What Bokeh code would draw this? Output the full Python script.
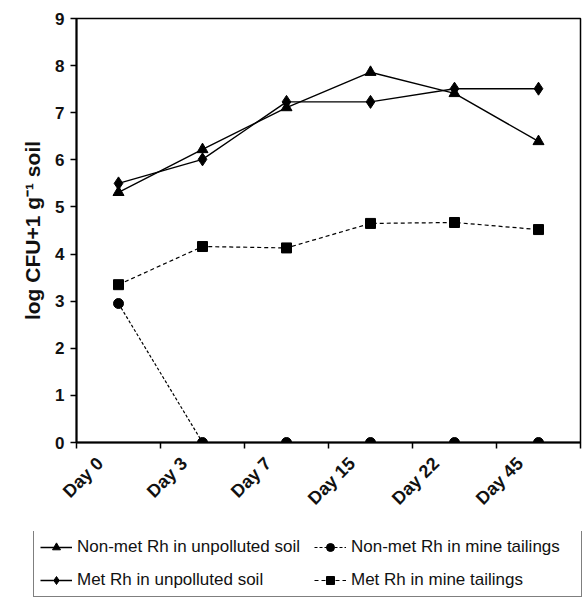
import math
from bokeh.plotting import figure
from bokeh.models import FixedTicker, Range1d, Legend, LegendItem, ColumnDataSource
from bokeh.embed import file_html
from bokeh.resources import INLINE

days = ["Day 0", "Day 3", "Day 7", "Day 15", "Day 22", "Day 45"]
nonmet_unpolluted = [5.31, 6.22, 7.11, 7.86, 7.41, 6.39]
met_unpolluted = [5.50, 6.01, 7.23, 7.23, 7.51, 7.51]
nonmet_tailings = [2.95, 0.0, 0.0, 0.0, 0.0, 0.0]
met_tailings = [3.35, 4.16, 4.13, 4.65, 4.67, 4.52]
y_ticks = [0, 1, 2, 3, 4, 5, 6, 7, 8, 9]
labels = ["Non-met Rh in unpolluted soil", "Met Rh in unpolluted soil",
          "Non-met Rh in mine tailings", "Met Rh in mine tailings"]

xc = [i + 0.5 for i in range(len(days))]
FONT = "Liberation Sans"

p = figure(width=582, height=531, output_backend="svg", toolbar_location=None,
           x_range=Range1d(0, len(days)), y_range=Range1d(0, 9),
           min_border_left=76, min_border_top=18, min_border_right=2, min_border_bottom=89)
p.grid.visible = False
p.outline_line_color = "black"
p.outline_line_width = 1.5

# axes
label_pos = [x - 0.22 for x in xc]
p.xaxis.ticker = FixedTicker(ticks=label_pos, minor_ticks=list(range(len(days) + 1)))
p.xaxis.major_label_overrides = {x: d for x, d in zip(label_pos, days)}
p.xaxis.major_tick_line_color = None
p.xaxis.minor_tick_out = 6
p.xaxis.minor_tick_in = 0
p.xaxis.minor_tick_line_color = "black"
p.xaxis.minor_tick_line_width = 1.5
p.xaxis.major_label_orientation = math.pi / 4
p.xaxis.major_label_standoff = 12
p.yaxis.ticker = FixedTicker(ticks=y_ticks)
p.yaxis.minor_tick_line_color = None
p.yaxis.major_tick_in = 0
p.yaxis.major_tick_out = 6
p.yaxis.major_label_standoff = 6
for ax in (p.xaxis, p.yaxis):
    ax.axis_line_color = "black"
    ax.axis_line_width = 2
    ax.major_tick_line_width = 1.5
    ax.major_label_text_font = FONT
    ax.major_label_text_font_style = "bold"
    ax.major_label_text_color = "#111111"
p.yaxis.major_label_text_font_size = "17px"
p.xaxis.major_label_text_font_size = "18px"
p.yaxis.axis_label = "log CFU+1 g\u207b\u00b9 soil"
p.yaxis.axis_label_text_font = FONT
p.yaxis.axis_label_text_font_style = "bold"
p.yaxis.axis_label_text_font_size = "21px"
p.yaxis.axis_label_text_color = "#111111"
p.yaxis.axis_label_standoff = 8

src = ColumnDataSource(dict(x=xc, a=nonmet_unpolluted, b=met_unpolluted,
                            c=nonmet_tailings, d=met_tailings))

styles = [
    ("a", "triangle", 11, None, 1.4),
    ("b", "diamond", 13, None, 1.4),
    ("c", "circle", 10, "3 2", 1.2),
    ("d", "square", 10, "4 3", 1.2),
]


def draw(fig):
    rs = []
    for col, marker, size, dash, lw in styles:
        kw = dict(line_dash=dash) if dash else {}
        rl = fig.line("x", col, source=src, line_color="black", line_width=lw, **kw)
        rm = fig.scatter("x", col, source=src, marker=marker, size=size, color="black")
        rs.append([rl, rm])
    return rs


draw(p)

# legend panel (separate root figure below the chart; data lies outside its view)
lf = figure(width=582, height=66, output_backend="svg", toolbar_location=None,
            x_range=Range1d(100, 101), y_range=Range1d(100, 101),
            x_axis_location=None, y_axis_location=None,
            min_border_left=0, min_border_right=0, min_border_top=0, min_border_bottom=0)
lf.grid.visible = False
lf.outline_line_color = None
lrs = draw(lf)

legend = Legend(items=[LegendItem(label=labels[i], renderers=lrs[i]) for i in range(4)],
                ncols=2, orientation="vertical", location=(33, 0))
legend.label_text_font = FONT
legend.label_text_font_size = "17px"
legend.label_text_color = "#111111"
legend.glyph_width = 32
legend.glyph_height = 20
legend.label_height = 20
legend.label_width = 224
legend.label_standoff = 5
legend.spacing = 13
legend.padding = 6
legend.margin = 0
legend.border_line_color = "black"
legend.border_line_width = 1.2
lf.add_layout(legend, "center")

open("out.html", "w").write(file_html([p, lf], INLINE))
